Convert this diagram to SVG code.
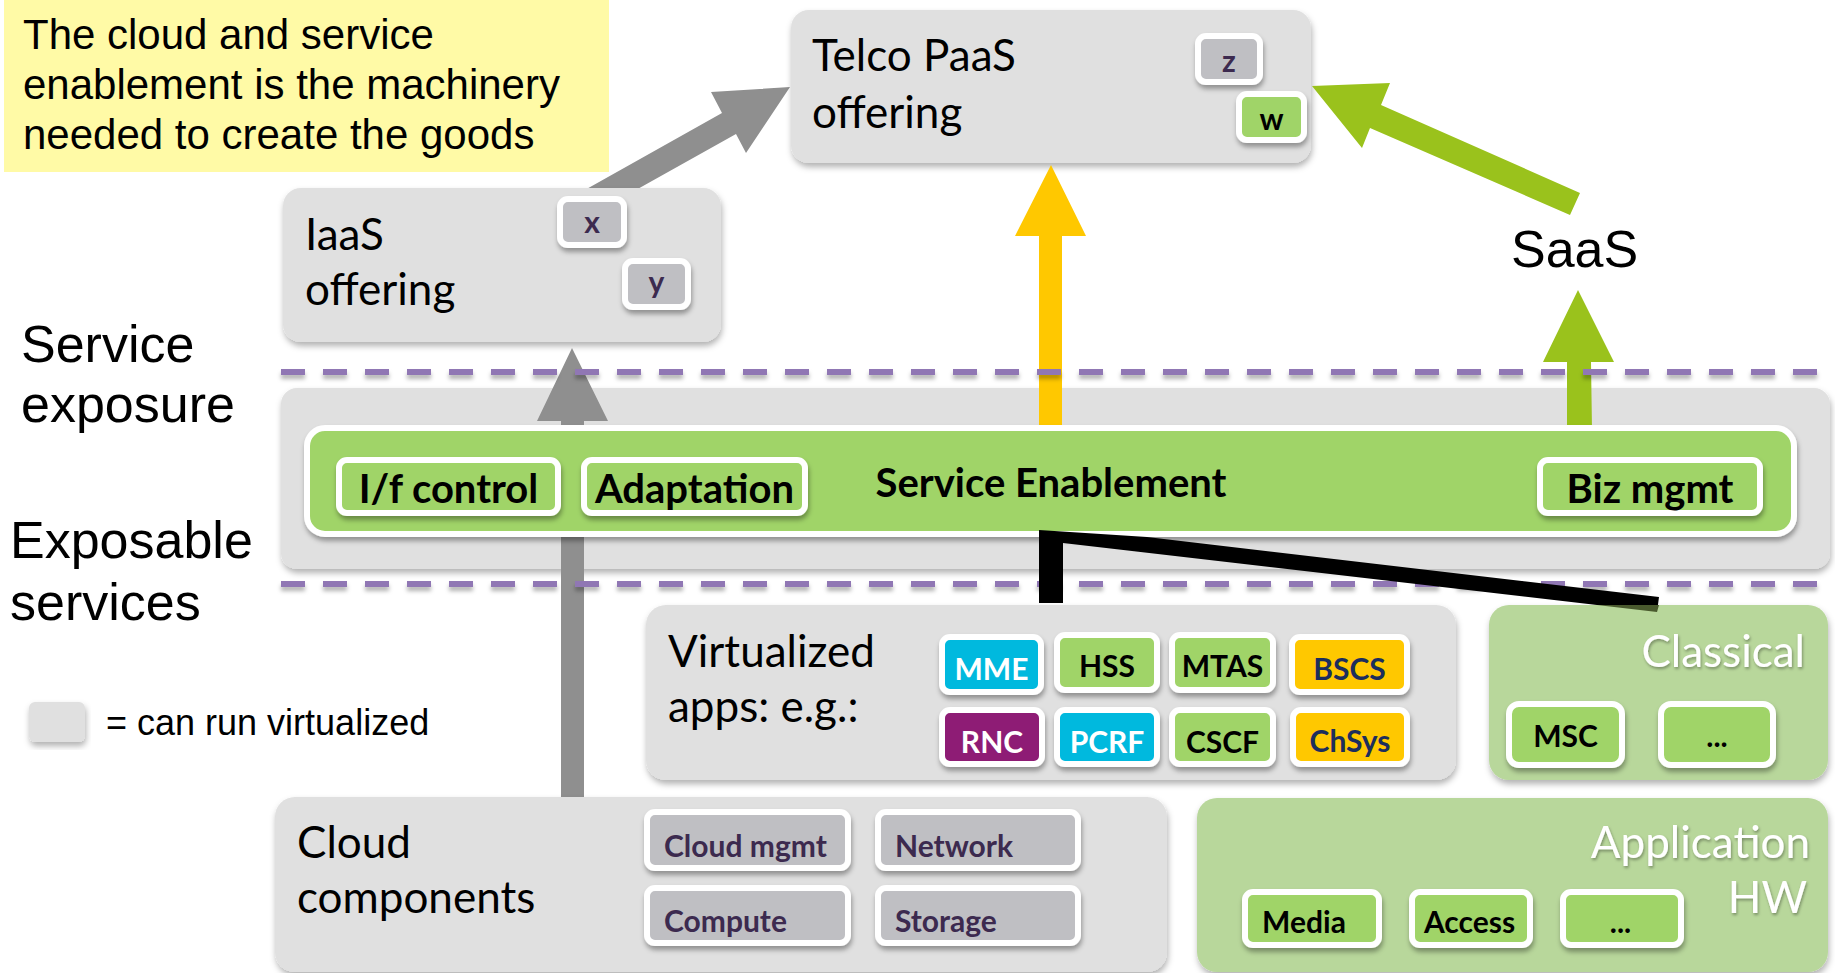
<svg xmlns="http://www.w3.org/2000/svg" width="1835" height="973" viewBox="0 0 1835 973">
<defs>
<filter id="sh" x="-10%" y="-10%" width="120%" height="130%"><feDropShadow dx="1" dy="4" stdDeviation="3" flood-color="#000" flood-opacity="0.3"/></filter>
<filter id="bsh" x="-20%" y="-20%" width="140%" height="150%"><feDropShadow dx="1" dy="4" stdDeviation="2.5" flood-color="#000" flood-opacity="0.35"/></filter>
<filter id="tsh" x="-10%" y="-20%" width="120%" height="150%"><feDropShadow dx="1" dy="2" stdDeviation="1.5" flood-color="#000" flood-opacity="0.35"/></filter>
<filter id="dsh" filterUnits="userSpaceOnUse" x="270" y="340" width="1560" height="270"><feDropShadow dx="0" dy="4" stdDeviation="2" flood-color="#000" flood-opacity="0.3"/></filter>
<style>
.box{fill:#E0E0E0;filter:url(#sh)}
.gbox{fill:#B8D79B;filter:url(#sh)}
.lbl{font-family:Lato,"Open Sans",sans-serif;font-size:44px;fill:#000}
.wl{font-family:Lato,"Open Sans",sans-serif;font-size:44px;fill:#fff;text-anchor:end;filter:url(#tsh)}
.big{font-family:"Liberation Sans",Arial,sans-serif;font-size:52px;fill:#000}
.note{font-family:"Liberation Sans",Arial,sans-serif;font-size:42px;fill:#000}
.bd{stroke:#fff;stroke-width:6;filter:url(#bsh)}
.gr{fill:#BFBFC3}
.gn{fill:#A0D468}
.cy{fill:#00B9DE}
.ye{fill:#FFC800}
.pu{fill:#8E1B75}
.bt{font-family:Lato,"Open Sans",sans-serif;font-weight:bold;font-size:30px;text-anchor:middle}
.bt2{font-family:Lato,"Open Sans",sans-serif;font-weight:bold;font-size:40px;text-anchor:middle;fill:#000}
.dash{stroke:#9077B4;stroke-width:6;stroke-dasharray:24 18;fill:none}
</style>
</defs>

<g id="note">
<rect x="4" y="0" width="605" height="172" fill="#FFFAA6"/>
<text class="note" x="23" y="49">The cloud and service</text>
<text class="note" x="23" y="99">enablement is the machinery</text>
<text class="note" x="23" y="149">needed to create the goods</text>
</g>

<g id="connectors-back">
<polygon points="790,87 711,92 722,113 567,200 618,200 736,134 746,153" fill="#8F8F8F"/>
</g>

<g id="iaas">
<rect class="box" x="283" y="188" width="438" height="154" rx="18"/>
<text class="lbl" x="305" y="250">IaaS</text>
<text class="lbl" x="305" y="305">offering</text>
<rect class="bd gr" x="560" y="199" width="64" height="46" rx="8"/>
<text class="bt" x="592" y="233" fill="#3C2A4F">x</text>
<rect class="bd gr" x="625" y="261" width="63" height="46" rx="8"/>
<text class="bt" x="656.5" y="293" fill="#3C2A4F">y</text>
</g>

<g id="telco">
<rect class="box" x="791" y="10" width="520" height="153" rx="18"/>
<text class="lbl" x="812" y="71">Telco PaaS</text>
<text class="lbl" x="812" y="128">offering</text>
<rect class="bd gr" x="1198" y="36" width="62" height="46" rx="8"/>
<text class="bt" x="1229" y="72" fill="#3C2A4F">z</text>
<rect class="bd gn" x="1239" y="94" width="65" height="46" rx="8"/>
<text class="bt" x="1271.5" y="130" fill="#000">w</text>
</g>

<g id="saas-label">
<text class="big" x="1511" y="267">SaaS</text>
</g>

<g id="legend">
<rect class="box" x="29" y="702" width="56" height="40" rx="6"/>
<text class="note" x="106" y="735" style="font-size:36px">= can run virtualized</text>
</g>

<g id="layer-labels">
<text class="big" x="21" y="362">Service</text>
<text class="big" x="21" y="422">exposure</text>
<text class="big" x="10" y="558">Exposable</text>
<text class="big" x="10" y="620">services</text>
</g>

<g id="service-exposure">
<rect class="box" x="281" y="388" width="1549" height="181" rx="16"/>
</g>

<g id="connectors">
<polygon points="572,348 608,421 584,421 584,797 561,797 561,421 537,421" fill="#8F8F8F"/>
<polygon points="1051,165 1086,236 1062,236 1062,430 1039,430 1039,236 1015,236" fill="#FFC800"/>
<polygon points="1312,86 1390,83 1381,105 1580,193 1570,215 1370,128 1362,148" fill="#9AC21C"/>
<polygon points="1578,290 1614,362 1591,362 1592,430 1567,430 1567,362 1543,362" fill="#9AC21C"/>
</g>

<g id="service-enablement">
<rect class="bd gn" x="307" y="428" width="1487" height="106" rx="18"/>
<text class="bt2" x="1051" y="497">Service Enablement</text>
<rect class="bd gn" x="339" y="460" width="219" height="53" rx="8"/>
<text class="bt2" x="448.5" y="503">I/f control</text>
<rect class="bd gn" x="584" y="460" width="221" height="53" rx="8"/>
<text class="bt2" x="694.5" y="503">Adaptation</text>
<rect class="bd gn" x="1540" y="460" width="220" height="53" rx="8"/>
<text class="bt2" x="1650" y="503">Biz mgmt</text>
</g>

<g id="dashed-lines" filter="url(#dsh)">
<line class="dash" x1="281" y1="372" x2="1817" y2="372"/>
<line class="dash" x1="281" y1="584" x2="1817" y2="584"/>
</g>

<g id="connector-black">
<polygon points="1039,530 1147,537 1659,597 1657,612 1063,543 1063,603 1039,603" fill="#000"/>
</g>

<g id="virtualized">
<rect class="box" x="646" y="605" width="810" height="175" rx="20"/>
<text class="lbl" x="668" y="667">Virtualized</text>
<text class="lbl" x="668" y="722">apps: e.g.:</text>
<rect class="bd cy" x="942" y="637" width="99" height="55" rx="8"/>
<text class="bt" x="991.5" y="680" fill="#fff">MME</text>
<rect class="bd gn" x="1057" y="635" width="100" height="55" rx="8"/>
<text class="bt" x="1107" y="677" fill="#000">HSS</text>
<rect class="bd gn" x="1172" y="635" width="101" height="55" rx="8"/>
<text class="bt" x="1222.5" y="677" fill="#000">MTAS</text>
<rect class="bd ye" x="1292" y="637" width="115" height="55" rx="8"/>
<text class="bt" x="1349.5" y="680" fill="#1C2E5C">BSCS</text>
<rect class="bd pu" x="942" y="710" width="100" height="54" rx="8"/>
<text class="bt" x="992" y="753" fill="#fff">RNC</text>
<rect class="bd cy" x="1057" y="710" width="100" height="54" rx="8"/>
<text class="bt" x="1107" y="753" fill="#fff">PCRF</text>
<rect class="bd gn" x="1172" y="710" width="101" height="54" rx="8"/>
<text class="bt" x="1222.5" y="753" fill="#000">CSCF</text>
<rect class="bd ye" x="1293" y="710" width="114" height="54" rx="8"/>
<text class="bt" x="1350" y="752" fill="#1C2E5C">ChSys</text>
</g>

<g id="classical">
<rect class="gbox" x="1489" y="605" width="339" height="175" rx="20"/>
<polygon points="1597,605 1659,605 1657,612" fill="#4A5A2E"/>
<text class="wl" x="1805" y="667">Classical</text>
<rect class="bd gn" x="1509" y="704" width="113" height="61" rx="10"/>
<text class="bt" x="1565.5" y="747" fill="#000">MSC</text>
<rect class="bd gn" x="1661" y="704" width="112" height="61" rx="10"/>
<text class="bt" x="1717" y="747" fill="#000">...</text>
</g>

<g id="cloud">
<rect class="box" x="275" y="797" width="892" height="175" rx="20"/>
<text class="lbl" x="297" y="858">Cloud</text>
<text class="lbl" x="297" y="913">components</text>
<rect class="bd gr" x="647" y="812" width="201" height="56" rx="8"/>
<text class="bt" x="664" y="857" fill="#3C2A4F" style="text-anchor:start">Cloud mgmt</text>
<rect class="bd gr" x="878" y="812" width="200" height="56" rx="8"/>
<text class="bt" x="895" y="857" fill="#3C2A4F" style="text-anchor:start">Network</text>
<rect class="bd gr" x="647" y="888" width="201" height="55" rx="8"/>
<text class="bt" x="664" y="932" fill="#3C2A4F" style="text-anchor:start">Compute</text>
<rect class="bd gr" x="878" y="888" width="200" height="55" rx="8"/>
<text class="bt" x="895" y="932" fill="#3C2A4F" style="text-anchor:start">Storage</text>
</g>

<g id="application-hw">
<rect class="gbox" x="1197" y="798" width="631" height="174" rx="20"/>
<text class="wl" x="1810" y="858">Application</text>
<text class="wl" x="1807" y="913">HW</text>
<rect class="bd gn" x="1245" y="892" width="134" height="53" rx="8"/>
<text class="bt" x="1304" y="933" fill="#000">Media</text>
<rect class="bd gn" x="1412" y="892" width="118" height="53" rx="8"/>
<text class="bt" x="1469.5" y="933" fill="#000">Access</text>
<rect class="bd gn" x="1563" y="892" width="118" height="53" rx="8"/>
<text class="bt" x="1620.5" y="933" fill="#000">...</text>
</g>
</svg>
